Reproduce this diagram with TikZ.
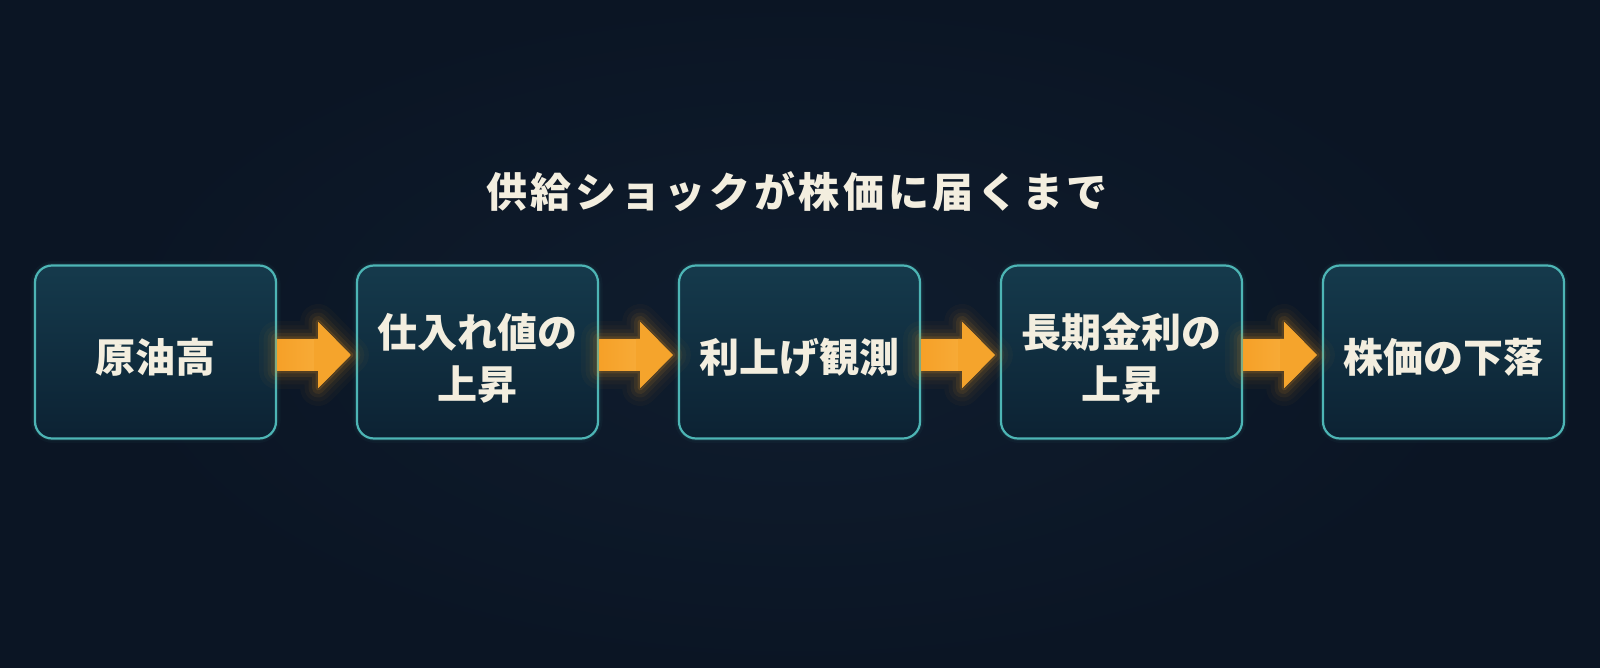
\documentclass[tikz,border=0pt]{standalone}
\usepackage{fontspec}
\setmainfont{Noto Sans CJK JP}
\newfontfamily\titlefont{Noto Sans CJK JP}[LetterSpace=9]
\usetikzlibrary{calc}
\definecolor{bgc}{HTML}{0B1524}
\definecolor{bgin}{HTML}{0F1D2E}
\definecolor{boxtop}{HTML}{153A4C}
\definecolor{boxbot}{HTML}{0C2233}
\definecolor{boxline}{HTML}{4DB5B5}
\definecolor{arrowc}{HTML}{F5A42C}
\definecolor{arrowl}{HTML}{F8B445}
\definecolor{glowc}{HTML}{F09A20}
\definecolor{txt}{HTML}{F3EEDF}
\tikzset{
  stepbox/.style={draw=boxline, line width=2.2pt, rounded corners=17pt,
    top color=boxtop, bottom color=boxbot,
    minimum width=241pt, minimum height=173pt, inner sep=0pt},
  steptext/.style={text=txt, font=\bfseries\fontsize{40}{52}\selectfont, align=center, inner sep=0pt},
  boxglow/.style={draw=boxline, rounded corners=18pt, minimum width=241pt, minimum height=173pt},
  titletext/.style={text=txt, font=\titlefont\bfseries\fontsize{41}{48}\selectfont, inner sep=0pt}
}
\newcommand\flowarrow[2]{%
  \foreach \w/\o in {36/0.03,27/0.04,19/0.06,12/0.09,5/0.15}{%
    \draw[glowc, line width=\w pt, opacity=\o, line join=round]
      ($(#1.east)+(0,13)$) -- ($(#1.east)+(41,13)$) -- ($(#1.east)+(41,30)$) --
      ($(#2.west)+(-5,-3)$) -- ($(#1.east)+(41,-36)$) -- ($(#1.east)+(41,-19)$) --
      ($(#1.east)+(0,-19)$) -- cycle;
  }
  \fill[left color=arrowc!90!orange, right color=arrowl]
      ($(#1.east)+(0,13)$) -- ($(#1.east)+(41,13)$) -- ($(#1.east)+(41,30)$) --
      ($(#2.west)+(-5,-3)$) -- ($(#1.east)+(41,-36)$) -- ($(#1.east)+(41,-19)$) --
      ($(#1.east)+(0,-19)$) -- cycle;
  \fill[arrowc] ($(#1.east)+(37,13)$) -- ($(#1.east)+(41,13)$) -- ($(#1.east)+(41,30)$) --
      ($(#2.west)+(-5,-3)$) -- ($(#1.east)+(41,-36)$) -- ($(#1.east)+(41,-19)$) --
      ($(#1.east)+(37,-19)$) -- cycle;
}
\begin{document}
\begin{tikzpicture}[x=1pt,y=1pt]
\useasboundingbox (0,0) rectangle (1600,667);
\fill[bgc] (-5,-5) rectangle (1605,672);
\shade[inner color=bgin, outer color=bgc] (100,-5) rectangle (1500,672);
\node[titletext] (title) at (797,475) {供給ショックが株価に届くまで};
\foreach \i/\x in {1/155.5,2/477.5,3/799.5,4/1121.5,5/1443.5}{
  \foreach \w/\o in {9/0.04,5/0.07}{
    \node[boxglow, line width=\w pt, opacity=\o] at (\x,315) {};
  }
}
\node[stepbox] (s1) at (155.5,315) {};
\node[stepbox] (s2) at (477.5,315) {};
\node[stepbox] (s3) at (799.5,315) {};
\node[stepbox] (s4) at (1121.5,315) {};
\node[stepbox] (s5) at (1443.5,315) {};
\node[steptext] (t1) at ($(s1.center)+(0,-5)$) {原油高};
\node[steptext] (t2) at ($(s2.center)+(0,-6)$) {仕入れ値の\\上昇};
\node[steptext] (t3) at ($(s3.center)+(0,-5)$) {利上げ観測};
\node[steptext] (t4) at ($(s4.center)+(0,-6)$) {長期金利の\\上昇};
\node[steptext] (t5) at ($(s5.center)+(0,-5)$) {株価の下落};
\flowarrow{s1}{s2}
\flowarrow{s2}{s3}
\flowarrow{s3}{s4}
\flowarrow{s4}{s5}
\end{tikzpicture}
\end{document}
